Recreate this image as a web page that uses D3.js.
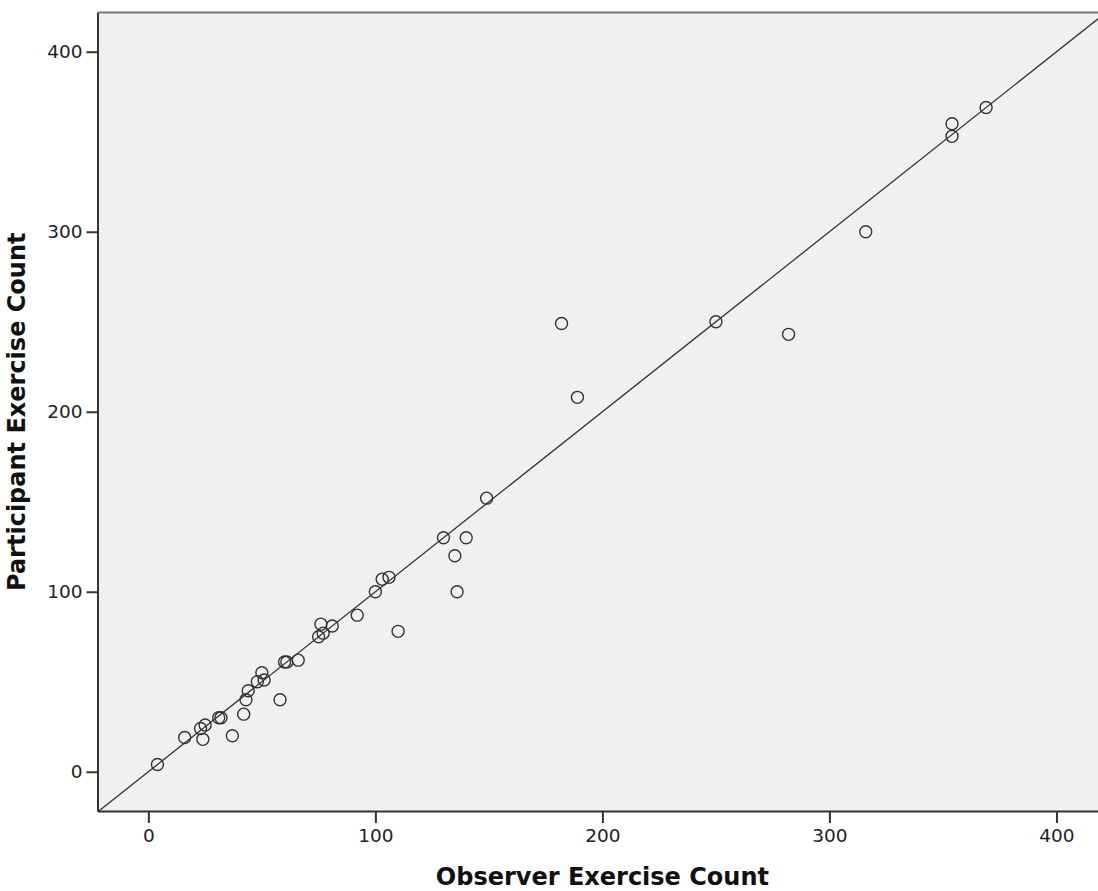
<!DOCTYPE html>
<html>
<head>
<meta charset="utf-8">
<script src="https://cdn.jsdelivr.net/npm/d3@7"></script>
<style>
	body { margin: 0; background: #fff; }
	svg { display: block; }
</style>
</head>
<body>
<div id="chart"></div>
<script>

let width = 1098

let height = 891

// observer vs participant counts
let observer = [4, 16, 23, 24, 25, 31, 32, 37, 42, 43, 44, 48, 50, 51, 58, 60, 61, 66, 75, 76, 77, 81, 92, 100, 103, 106, 110, 130, 135, 136, 140, 149, 182, 189, 250, 282, 316, 354, 354, 369]

let participant = [4, 19, 24, 18, 26, 30, 30, 20, 32, 40, 45, 50, 55, 51, 40, 61, 61, 62, 75, 82, 77, 81, 87, 100, 107, 108, 78, 130, 120, 100, 130, 152, 249, 208, 250, 243, 300, 360, 353, 369]

let ticks = [0, 100, 200, 300, 400]

let xTitle = 'Observer Exercise Count'

let yTitle = 'Participant Exercise Count'

let points = observer.map((d, i) => ({'obs': d, 'part': participant[i]}))

let xScale = d3.scaleLinear()
	.domain([-22.4, 418.3])
	.range([97.5, 1098])

let yScale = d3.scaleLinear()
	.domain([-21.8, 421.8])
	.range([811, 12.5])

const svg = d3.select('#chart')
	.append('svg')
	.attr('width', width)
	.attr('height', height)

// plot background
svg.append('rect')
	.attr('x', xScale.range()[0])
	.attr('y', yScale.range()[1])
	.attr('width', xScale.range()[1] - xScale.range()[0] + 2)
	.attr('height', yScale.range()[0] - yScale.range()[1])
	.attr('fill', '#f0f0f0')

// top border
svg.append('line')
	.attr('x1', xScale.range()[0])
	.attr('x2', xScale.range()[1])
	.attr('y1', yScale.range()[1])
	.attr('y2', yScale.range()[1])
	.attr('stroke', '#777')
	.attr('stroke-width', 2)

let clip = svg.append('clipPath').attr('id', 'plotClip')
	.append('rect')
	.attr('x', xScale.range()[0])
	.attr('y', yScale.range()[1])
	.attr('width', xScale.range()[1] - xScale.range()[0])
	.attr('height', yScale.range()[0] - yScale.range()[1])

// reference line y = x
let lo = Math.min(xScale.domain()[0], yScale.domain()[0])
let hi = Math.max(xScale.domain()[1], yScale.domain()[1])

svg.append('line')
	.attr('clip-path', 'url(#plotClip)')
	.attr('x1', xScale(lo))
	.attr('y1', yScale(lo))
	.attr('x2', xScale(hi))
	.attr('y2', yScale(hi))
	.attr('stroke', '#333')
	.attr('stroke-width', 1.3)

svg.append('g')
	.selectAll('circle')
	.data(points)
	.enter()
	.append('circle')
	.attr('cx', d => xScale(d.obs))
	.attr('cy', d => yScale(d.part))
	.attr('r', 6)
	.attr('fill', 'none')
	.attr('stroke', '#333')
	.attr('stroke-width', 1.4)

xAxis = g => g.attr('transform', `translate(0,${yScale.range()[0]})`)
	.call(d3.axisBottom(xScale).tickValues(ticks).tickSize(12).tickPadding(6).tickSizeOuter(0))

yAxis = g => g.attr('transform', `translate(${xScale.range()[0]},0)`)
	.call(d3.axisLeft(yScale).tickValues(ticks).tickSize(11).tickPadding(4).tickSizeOuter(0))

let styleAxis = g => {
	g.select('.domain').attr('stroke', '#333').attr('stroke-width', 2)
	g.selectAll('.tick line').attr('stroke', '#333').attr('stroke-width', 2)
	g.selectAll('text')
		.attr('fill', '#222')
		.style('font-family', 'DejaVu Sans')
		.style('font-size', '18.5px')
}

svg.append('g').call(xAxis).call(styleAxis)

svg.append('g').call(yAxis).call(styleAxis)

svg.append('text')
	.attr('x', xScale(200))
	.attr('y', 885)
	.attr('text-anchor', 'middle')
	.style('font-family', 'DejaVu Sans')
	.style('font-weight', 'bold')
	.style('font-size', '24px')
	.attr('fill', '#111')
	.text(xTitle)

svg.append('text')
	.attr('transform', `translate(25,${(yScale.range()[0] + yScale.range()[1]) / 2}) rotate(-90)`)
	.attr('text-anchor', 'middle')
	.style('font-family', 'DejaVu Sans')
	.style('font-weight', 'bold')
	.style('font-size', '24px')
	.attr('fill', '#111')
	.text(yTitle)

</script>
</body>
</html>
